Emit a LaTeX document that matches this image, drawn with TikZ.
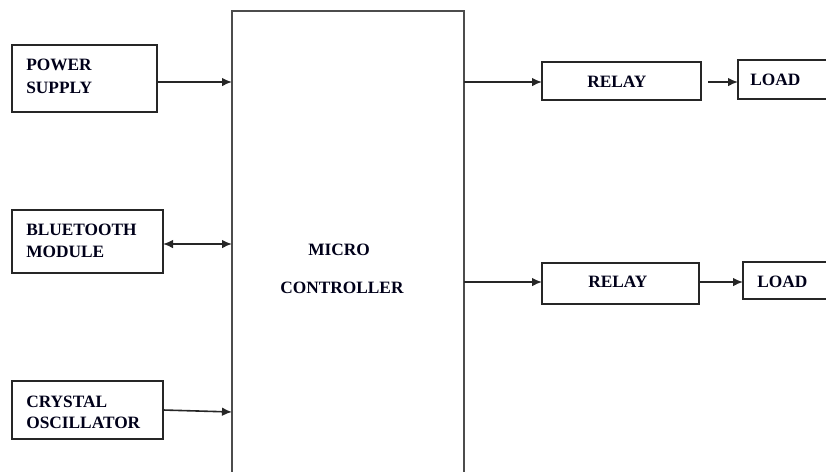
\documentclass[tikz,border=0pt]{standalone}
\usepackage{fontspec}
\setmainfont{Liberation Serif}
\usetikzlibrary{arrows.meta}
\begin{document}
\begin{tikzpicture}[x=0.75pt,y=-0.75pt,
  box/.style={draw=black!85,line width=1.2pt,inner sep=0pt,outer sep=0pt},
  bigbox/.style={draw=black!70,line width=1.7pt,inner sep=0pt,outer sep=0pt},
  lbl/.style={anchor=base west,inner sep=0pt,font=\bfseries\fontsize{13}{17}\selectfont,text=black!90!blue},
  tip/.tip={Latex[length=7.5pt,width=6.5pt]},
  arr/.style={line width=1.2pt,draw=black!85,-tip},
  darr/.style={line width=1.2pt,draw=black!85,tip-tip}]
\useasboundingbox (0,0) rectangle (826,472);
\clip (0,0) rectangle (826,472);
% boxes
\node[bigbox,minimum width=232*0.75pt,minimum height=469*0.75pt] (mc) at (348,245.5) {};
\node[box,minimum width=145*0.75pt,minimum height=67*0.75pt] (ps) at (84.5,78.5) {};
\node[box,minimum width=151*0.75pt,minimum height=63*0.75pt] (bt) at (87.5,241.5) {};
\node[box,minimum width=151*0.75pt,minimum height=58*0.75pt] (co) at (87.5,410) {};
\node[box,minimum width=159*0.75pt,minimum height=38*0.75pt] (r1) at (621.5,81) {};
\node[box,minimum width=122*0.75pt,minimum height=39*0.75pt] (l1) at (799,79.5) {};
\node[box,minimum width=157*0.75pt,minimum height=41*0.75pt] (r2) at (620.5,283.5) {};
\node[box,minimum width=122*0.75pt,minimum height=37*0.75pt] (l2) at (804,280.5) {};
% labels
\node[lbl] (t1) at (26,70) {POWER};
\node[lbl] (t2) at (26,93) {SUPPLY};
\node[lbl] (t3) at (26,235) {BLUETOOTH};
\node[lbl] (t4) at (26,257) {MODULE};
\node[lbl] (t5) at (26,407) {CRYSTAL};
\node[lbl] (t6) at (26,428) {OSCILLATOR};
\node[lbl] (t7) at (308,255) {MICRO};
\node[lbl] (t8) at (280,293) {CONTROLLER};
\node[lbl] (t9) at (587,87) {RELAY};
\node[lbl] (t10) at (750,85) {LOAD};
\node[lbl] (t11) at (588,287) {RELAY};
\node[lbl] (t12) at (757,287) {LOAD};
% connector anchor points
\coordinate (a1) at (232,82);
\coordinate (a2) at (232,244);
\coordinate (a3s) at (163,410);
\coordinate (a3) at (232,412);
\coordinate (b1) at (464,82);
\coordinate (b2) at (464,282);
\coordinate (c1) at (708,82);
\coordinate (c2) at (699,282);
% connectors
\draw[arr] (ps.east |- a1) -- (a1);
\draw[darr] (bt.east |- a2) -- (a2);
\draw[arr] (a3s) -- (a3);
\draw[arr] (b1) -- (r1.west |- b1);
\draw[arr] (b2) -- (r2.west |- b2);
\draw[arr] (c1) -- (l1.west |- c1);
\draw[arr] (c2) -- (l2.west |- c2);
\end{tikzpicture}
\end{document}
